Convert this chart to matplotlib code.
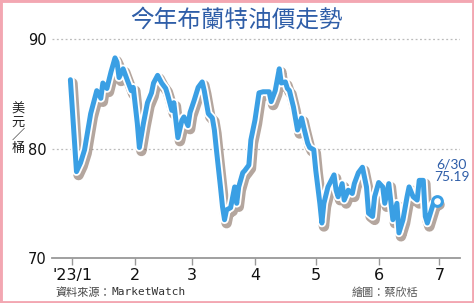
import pandas as pd
import matplotlib
matplotlib.use('Agg')
import matplotlib.pyplot as plt
import matplotlib.patheffects as pe
from matplotlib.patches import Rectangle

plt.rcParams['font.family'] = ['Noto Sans CJK TC', 'DejaVu Sans']

# Brent crude, USD per barrel
dates = [
    '2022-12-31', '2023-01-03', '2023-01-05', '2023-01-07', '2023-01-10', '2023-01-13',
    '2023-01-14', '2023-01-15', '2023-01-16', '2023-01-18', '2023-01-20', '2023-01-22',
    '2023-01-23', '2023-01-24', '2023-01-26', '2023-01-28', '2023-01-30', '2023-01-31',
    '2023-02-02', '2023-02-03', '2023-02-05', '2023-02-07', '2023-02-09', '2023-02-10',
    '2023-02-12', '2023-02-14', '2023-02-16', '2023-02-17', '2023-02-19', '2023-02-20',
    '2023-02-22', '2023-02-24', '2023-02-25', '2023-02-27', '2023-02-28',
    '2023-03-02', '2023-03-04', '2023-03-06', '2023-03-07', '2023-03-09', '2023-03-11',
    '2023-03-12', '2023-03-13', '2023-03-15', '2023-03-16', '2023-03-17', '2023-03-18',
    '2023-03-20', '2023-03-22', '2023-03-23', '2023-03-24', '2023-03-26', '2023-03-27',
    '2023-03-29', '2023-03-30',
    '2023-04-01', '2023-04-03', '2023-04-05', '2023-04-08', '2023-04-09', '2023-04-11',
    '2023-04-13', '2023-04-14', '2023-04-16', '2023-04-17', '2023-04-18', '2023-04-20',
    '2023-04-22', '2023-04-24', '2023-04-25', '2023-04-27', '2023-04-28', '2023-04-30',
    '2023-05-01', '2023-05-03', '2023-05-04', '2023-05-05', '2023-05-07', '2023-05-10',
    '2023-05-11', '2023-05-12', '2023-05-14', '2023-05-15', '2023-05-17', '2023-05-19',
    '2023-05-20', '2023-05-22', '2023-05-24', '2023-05-25', '2023-05-26', '2023-05-27',
    '2023-05-29', '2023-05-30',
    '2023-06-01', '2023-06-03', '2023-06-04', '2023-06-06', '2023-06-08', '2023-06-10',
    '2023-06-11', '2023-06-13', '2023-06-15', '2023-06-16', '2023-06-18', '2023-06-20',
    '2023-06-21', '2023-06-23', '2023-06-24', '2023-06-25', '2023-06-27', '2023-06-28',
    '2023-06-30',
]
prices = [
    86.3, 77.9, 78.7, 79.9, 83.2, 85.3,
    85.0, 84.6, 86.0, 85.5, 87.0, 88.3,
    87.9, 86.5, 87.3, 86.3, 85.3, 85.6,
    82.3, 80.1, 82.3, 84.2, 85.1, 86.0,
    86.7, 86.0, 85.5, 84.9, 83.5, 84.2,
    81.0, 82.6, 82.9, 82.1, 83.3,
    84.4, 85.6, 86.1, 85.3, 83.2, 82.8,
    81.7, 79.9, 76.5, 74.7, 73.5, 74.4,
    74.6, 76.5, 75.0, 76.5, 77.8, 78.0,
    78.5, 80.8,
    82.6, 85.1, 85.2, 85.2, 84.3, 85.3,
    87.3, 86.0, 86.1, 85.5, 85.3, 83.8,
    81.7, 82.8, 82.0, 80.5, 80.1, 79.9,
    78.0, 75.0, 73.2, 75.0, 76.5, 77.6,
    76.2, 75.6, 76.8, 75.3, 76.2, 75.9,
    76.8, 77.8, 78.3, 77.4, 76.5, 74.1,
    73.8, 75.6,
    76.9, 76.5, 75.0, 76.8, 73.5, 75.0,
    72.3, 73.5, 75.6, 76.5, 75.6, 75.3,
    77.1, 77.1, 73.8, 73.2, 74.4, 75.0,
    75.19,
]
month_ticks = ['2023-01-01', '2023-02-01', '2023-03-01', '2023-04-01',
               '2023-05-01', '2023-06-01', '2023-07-01']
month_labels = ["'23/1", '2', '3', '4', '5', '6', '7']
y_ticks = [70, 80, 90]

x = pd.to_datetime(dates)
blue = '#3a9fe4'
navy = '#2f5ea8'

fig = plt.figure(figsize=(4.74, 3.03), dpi=100)
fig.patches.append(Rectangle((0, 0), 1, 1, transform=fig.transFigure,
                             fill=False, edgecolor='#f3a7b2', linewidth=3.5))
ax = fig.add_axes([0.110, 0.1485, 0.860, 0.758])

ax.plot(x, prices, color=blue, linewidth=3.6, solid_joinstyle='round',
        solid_capstyle='round', zorder=3,
        path_effects=[pe.SimpleLineShadow(offset=(1.5, -2.5), shadow_color='#5a3a28',
                                          alpha=0.45, linewidth=7.5),
                      pe.Stroke(linewidth=6.2, foreground='white'),
                      pe.Normal()])
ax.plot(x[-1:], prices[-1:], 'o', markersize=7, markerfacecolor='white',
        markeredgecolor=blue, markeredgewidth=2.2, zorder=4)

ax.text(x[-1] + pd.Timedelta(days=7), 76.9, '6/30\n75.19', color=navy,
        fontsize=10, ha='center', va='bottom', linespacing=1.05,
        family=['Lato', 'DejaVu Sans'])

ax.set_xlim(pd.Timestamp('2022-12-22'), pd.Timestamp('2023-07-11'))
ax.set_ylim(70, 91)
ax.set_xticks(pd.to_datetime(month_ticks))
ax.set_xticklabels(month_labels, fontsize=11.5, family=['DejaVu Sans'])
ax.set_yticks(y_ticks)
ax.set_yticklabels([str(v) for v in y_ticks], fontsize=10.5, family=['DejaVu Sans'])
ax.tick_params(axis='x', length=5, width=1, color='#999999', pad=2, labelcolor='#111111')
ax.tick_params(axis='y', length=0, pad=4, labelcolor='#111111')

for v in y_ticks[1:]:
    ax.axhline(v, color='#bbbbbb', linewidth=0.9, linestyle=(0, (1.5, 2)), zorder=1)

for side in ['top', 'right', 'left']:
    ax.spines[side].set_visible(False)
ax.spines['bottom'].set_color('#999999')
ax.spines['bottom'].set_linewidth(1.3)

fig.text(0.5, 0.935, '今年布蘭特油價走勢', ha='center', va='center',
         fontsize=17, color=navy)
fig.text(0.038, 0.575, '\n'.join('美元／桶'), ha='center', va='center',
         fontsize=9.5, color='#222222', linespacing=1.0)

src = fig.text(0.118, 0.035, '資料來源：', ha='left', va='center',
               fontsize=8, color='#444444')
ax.annotate('MarketWatch', xy=(1, 0.5), xycoords=src, ha='left', va='center',
            fontsize=8, color='#333333', family=['DejaVu Sans Mono'])
fig.text(0.883, 0.035, '繪圖：蔡欣栝', ha='right', va='center',
         fontsize=8, color='#555555')

fig.savefig('out.png', dpi=100)
